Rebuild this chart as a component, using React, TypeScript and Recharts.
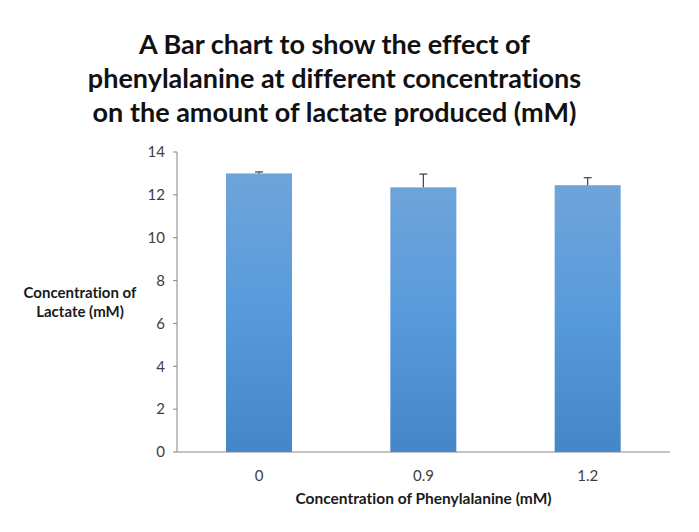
import React from 'react';
import { BarChart, Bar, XAxis, YAxis, Label } from 'recharts';

document.body.style.margin = '0';

const concentrations = ['0', '0.9', '1.2'];
const lactate = [13.0, 12.35, 12.45];
const lactateErr = [0.07, 0.62, 0.35];
const yTicks = [0, 2, 4, 6, 8, 10, 12, 14];
const edgeTicks = [0, 1, 2, 3];

const data = concentrations.map((c, i) => ({
  name: c,
  value: lactate[i],
  err: lactateErr[i],
  idx: i + 0.5,
}));

const FONT = 'Lato, "Open Sans", sans-serif';
const AXIS = '#868686';
const noLig = { fontVariantLigatures: 'none' as const };

// bar + upward-only error bar, error length scaled from the bar's own px/unit
const BarWithError = (props: any) => {
  const { x, y, width, height, payload } = props;
  const errPx = (height / payload.value) * payload.err;
  const cx = x + width / 2;
  return (
    <g>
      <rect x={x} y={y} width={width} height={height} fill="url(#barGrad)" />
      <line x1={cx} y1={y} x2={cx} y2={y - errPx} stroke="#404040" strokeWidth={1.2} />
      <line x1={cx - 4} y1={y - errPx} x2={cx + 4} y2={y - errPx} stroke="#404040" strokeWidth={1.2} />
    </g>
  );
};

const YLabel = ({ viewBox }: any) => {
  const cx = viewBox.x - 57;
  const cy = viewBox.y + viewBox.height / 2;
  return (
    <text x={cx} y={cy} textAnchor="middle" fontFamily={FONT} fontWeight={700} fontSize={15} fill="#1a1a1a" style={noLig}>
      <tspan x={cx} dy={-4}>Concentration of</tspan>
      <tspan x={cx} dy={19}>Lactate (mM)</tspan>
    </text>
  );
};

export default function App() {
  return (
    <div style={{ position: 'relative', width: 699, height: 532, background: '#fff' }}>
      <div
        style={{
          position: 'absolute',
          left: 0,
          top: 27,
          width: 669,
          textAlign: 'center',
          fontFamily: FONT,
          fontWeight: 700,
          fontSize: 27,
          lineHeight: '34px',
          color: '#111',
          ...noLig,
        }}
      >
        A Bar chart to show the effect of
        <br />
        phenylalanine at different concentrations
        <br />
        on the amount of lactate produced (mM)
      </div>
      <div style={{ position: 'absolute', left: 0, top: 0 }}>
        <BarChart width={699} height={532} data={data} margin={{ top: 152, right: 29, bottom: 0, left: 137 }}>
          <defs>
            <linearGradient id="barGrad" x1="0" y1="0" x2="0" y2="1">
              <stop offset="0%" stopColor="#6fa4da" />
              <stop offset="50%" stopColor="#579adc" />
              <stop offset="100%" stopColor="#4486c7" />
            </linearGradient>
          </defs>
          <XAxis
            xAxisId="a_edges"
            type="number"
            dataKey="idx"
            domain={[0, 3]}
            ticks={edgeTicks}
            tick={false}
            tickSize={4}
            stroke={AXIS}
            height={6}
          />
          <XAxis
            dataKey="name"
            xAxisId="b_cat"
            tickLine={false}
            axisLine={false}
            tick={{ fontFamily: FONT, fontSize: 15, fill: '#404040' }}
            tickMargin={6}
            height={74}
          >
            <Label
              value="Concentration of Phenylalanine (mM)"
              position="insideTop"
              offset={35}
              style={{ fontFamily: FONT, fontWeight: 700, fontSize: 15.5, fill: '#1a1a1a', ...noLig }}
            />
          </XAxis>
          <YAxis
            domain={[0, 14]}
            ticks={yTicks}
            width={40}
            stroke={AXIS}
            tickSize={4}
            tick={{ fontFamily: FONT, fontSize: 15, fill: '#404040' }}
            tickMargin={8}
          >
            <Label content={<YLabel />} />
          </YAxis>
          <Bar
            xAxisId="b_cat"
            dataKey="value"
            barSize={66}
            shape={<BarWithError />}
            isAnimationActive={false}
          />
        </BarChart>
      </div>
    </div>
  );
}
